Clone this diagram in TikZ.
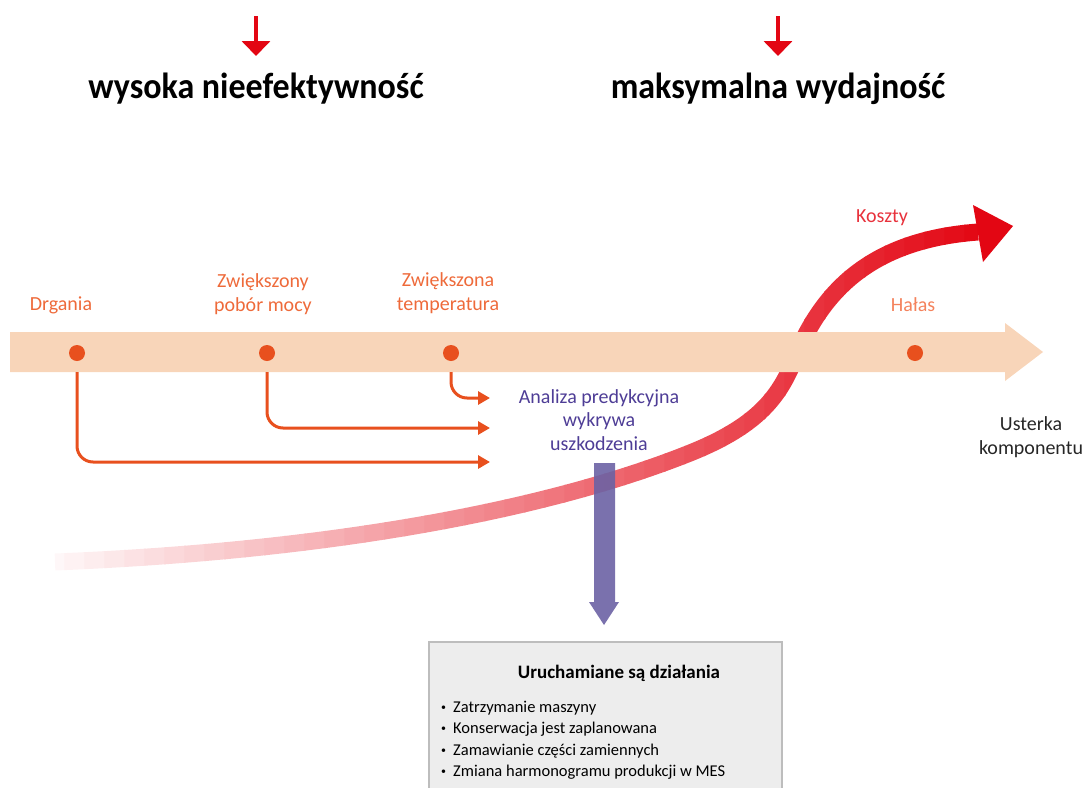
\documentclass[tikz,border=0pt]{standalone}
\usepackage{fontspec}
\setmainfont{Carlito}
\usetikzlibrary{arrows.meta}
\definecolor{kred}{HTML}{E30613}
\definecolor{peach}{HTML}{F8D5B9}
\definecolor{dotc}{HTML}{E8501E}
\definecolor{lab}{HTML}{EE6A3A}
\definecolor{labl}{HTML}{F4825C}
\definecolor{costc}{HTML}{E8323C}
\definecolor{purp}{HTML}{6C62A4}
\definecolor{purtxt}{HTML}{4E3D96}
\definecolor{boxfill}{HTML}{EDEDED}
\definecolor{boxline}{HTML}{BDBDBD}
\definecolor{darktxt}{HTML}{262626}
\def\costcurve{(55,562) .. controls (350,550) and (560,505) .. (690,453) .. controls (760,425) and (780,395) .. (795,358) .. controls (822,292) and (870,240) .. (978,232)}
\newcommand{\bul}{\makebox[12pt][l]{\raisebox{2pt}{\scalebox{0.6}{\textbullet}}}}
\begin{document}
\begin{tikzpicture}[x=1pt,y=-1pt,
  dot/.style={circle,fill=dotc,inner sep=0pt,minimum size=16pt},
  lbl/.style={text=lab,font=\fontsize{20}{23.5}\selectfont,align=center,inner sep=0pt},
  headtxt/.style={font=\fontsize{34}{40}\selectfont\bfseries,inner sep=0pt},
  redarrow/.style={draw=kred,line width=4pt,-{Triangle[length=15pt,width=28pt]}},
  feed/.style={draw=dotc,line width=3pt,rounded corners=16pt,-{Triangle[length=12pt,width=13pt]}},
]
\useasboundingbox (0,0) rectangle (1083,787);
\clip (0,0) rectangle (1083,787);

% top arrows and headings
\coordinate (a1s) at (256,16);
\coordinate (a1e) at (256,56);
\coordinate (a2s) at (778,16);
\coordinate (a2e) at (778,56);
\draw[redarrow] (a1s) -- (a1e);
\draw[redarrow] (a2s) -- (a2e);
\node[headtxt] (h1) at (256,89) {\scalebox{1}[1.07]{wysoka nieefektywność}};
\node[headtxt] (h2) at (778,89) {\scalebox{1}[1.07]{maksymalna wydajność}};

% cost curve with fading colour
\foreach \i in {0,...,47}{
  \pgfmathsetmacro\xa{45+\i*20}
  \pgfmathsetmacro\tt{min(100,max(0,(\xa+10-25)/960*100))}
  \begin{scope}
    \clip (\xa-0.6,0) rectangle (\xa+20.6,787);
    \draw[line width=17pt,color=kred!\tt!white] \costcurve;
  \end{scope}
}
\fill[kred] (973,205) -- (1013,226) -- (983,262) -- cycle;
\node[text=costc,font=\fontsize{20}{23.5}\selectfont,inner sep=0pt] (koszty) at (882,218) {Koszty};

% timeline band (over the curve)
\fill[peach] (10,332) -- (1005,332) -- (1005,323) -- (1043,352) -- (1005,381) -- (1005,372) -- (10,372) -- cycle;

% dots and labels
\node[dot] (d1) at (77,353) {};
\node[dot] (d2) at (267,353) {};
\node[dot] (d3) at (451,353) {};
\node[dot] (d4) at (915,353) {};
\node[lbl] (l1) at (61,305) {Drgania};
\node[lbl] (l2) at (263,294) {Zwiększony\\pobór mocy};
\node[lbl] (l3) at (448,293) {Zwiększona\\temperatura};
\node[lbl,text=labl] (l4) at (913,305) {Hałas};

% analysis text
\node[text=purtxt,font=\fontsize{20}{23.5}\selectfont,align=center,inner sep=0pt] (an) at (599,420) {Analiza predykcyjna\\wykrywa\\uszkodzenia};
\node[text=darktxt,font=\fontsize{20}{23.5}\selectfont,align=center,inner sep=0pt] (fail) at (1031,437) {Usterka\\komponentu};

% feed arrows
\coordinate (t1) at (490,462);
\coordinate (t2) at (490,428);
\coordinate (t3) at (490,398);
\draw[feed] ([yshift=-11pt]d1.south) |- (t1);
\draw[feed] ([yshift=-11pt]d2.south) |- (t2);
\draw[feed] ([yshift=-11pt]d3.south) |- (t3);

% actions box
\node[draw=boxline,fill=boxfill,line width=1.5pt,minimum width=353pt,minimum height=170pt,anchor=north west,inner sep=0pt] (box) at (428,641) {};
\node[font=\fontsize{19}{22}\selectfont\bfseries,inner sep=0pt] (bt) at (619,673) {Uruchamiane są działania};
\node[font=\fontsize{16.5}{21.3}\selectfont,align=left,anchor=north west,inner sep=0pt] (bl) at (441,701) {\bul Zatrzymanie maszyny\\\bul Konserwacja jest zaplanowana\\\bul Zamawianie części zamiennych\\\bul Zmiana harmonogramu produkcji w MES};

% purple arrow from analysis to box
\fill[purp,fill opacity=0.9] (594,463) -- (615,463) -- (615,602) -- (619,602) -- (604,625) -- (589,602) -- (594,602) -- cycle;
\end{tikzpicture}
\end{document}
